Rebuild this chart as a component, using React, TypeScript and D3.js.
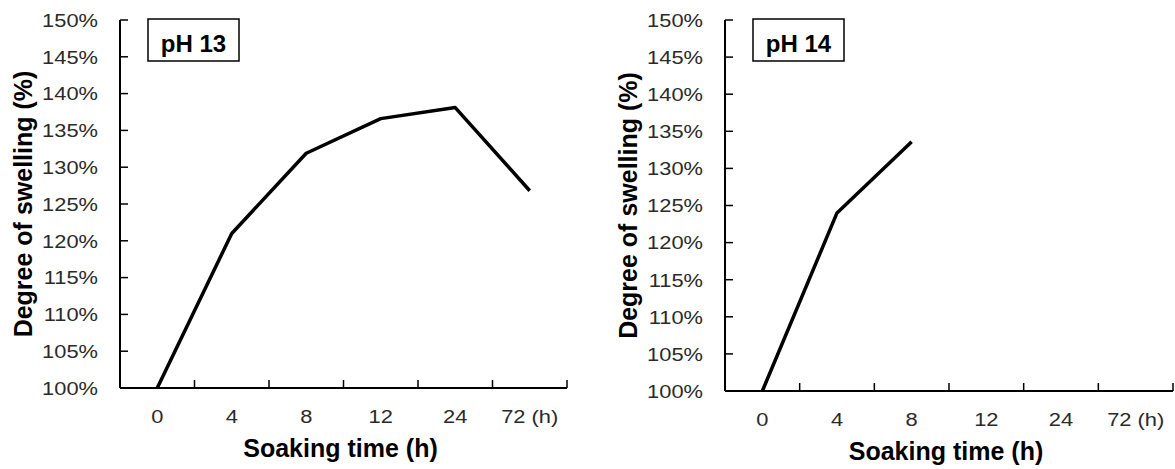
import * as d3 from "d3";
import { useEffect, useRef } from "react";

// soaking time categories (h)
const categories = ["0", "4", "8", "12", "24", "72"];
// degree of swelling (%) per panel
const swellingPH13 = [100, 121, 131.9, 136.6, 138.1, 126.8];
const swellingPH14 = [100, 124, 133.6];
const yTicks = [100, 105, 110, 115, 120, 125, 130, 135, 140, 145, 150];
const panelLabels = ["pH 13", "pH 14"];

const W = 1175;
const H = 469;

const panels = [
    { label: panelLabels[0], values: swellingPH13, left: 120, right: 567, top: 20, bottom: 388 },
    { label: panelLabels[1], values: swellingPH14, left: 725, right: 1173, top: 20, bottom: 391 },
];

const App = () => {
    const chartRef = useRef(null);

    useEffect(() => {
        const svg = d3.select(chartRef.current);
        svg.selectAll("*").remove();

        svg.append("rect").attr("width", W).attr("height", H).style("fill", "#fff");

        panels.forEach((p) => {
            const scaleX = d3.scaleBand()
                .domain(categories)
                .range([p.left, p.right]);
            const scaleY = d3.scaleLinear()
                .domain([100, 150])
                .range([p.bottom, p.top]);
            const bw = scaleX.bandwidth();

            const g = svg.append("g");

            // y axis line + inward ticks
            g.append("line")
                .attr("x1", p.left).attr("x2", p.left)
                .attr("y1", p.top).attr("y2", p.bottom)
                .style("stroke", "#000").style("stroke-width", 2);
            g.selectAll(".ytick")
                .data(yTicks)
                .enter()
                .append("line")
                .attr("x1", p.left).attr("x2", p.left + 8)
                .attr("y1", d => scaleY(d)).attr("y2", d => scaleY(d))
                .style("stroke", "#000").style("stroke-width", 1.5);
            // tick font in the source is a bit wide, so stretch it horizontally
            g.selectAll(".ylab")
                .data(yTicks)
                .enter()
                .append("text")
                .attr("transform", d => `translate(${p.left - 22}, ${scaleY(d)}) scale(1.15, 1)`)
                .attr("dy", "0.36em")
                .attr("text-anchor", "end")
                .style("font-family", "Arial, 'Liberation Sans', sans-serif")
                .style("font-size", "19px")
                .style("fill", "#2a2a2a")
                .text(d => `${d}%`);

            // x axis line + inward ticks at band edges
            g.append("line")
                .attr("x1", p.left).attr("x2", p.right)
                .attr("y1", p.bottom).attr("y2", p.bottom)
                .style("stroke", "#000").style("stroke-width", 2);
            g.selectAll(".xtick")
                .data(categories)
                .enter()
                .append("line")
                .attr("x1", d => scaleX(d) + bw).attr("x2", d => scaleX(d) + bw)
                .attr("y1", p.bottom).attr("y2", p.bottom - 8)
                .style("stroke", "#000").style("stroke-width", 1.5);
            g.selectAll(".xlab")
                .data(categories)
                .enter()
                .append("text")
                .attr("transform", d => `translate(${scaleX(d) + bw / 2}, ${p.bottom + 35}) scale(1.15, 1)`)
                .attr("text-anchor", "middle")
                .style("font-family", "Arial, 'Liberation Sans', sans-serif")
                .style("font-size", "19px")
                .style("fill", "#2a2a2a")
                .text(d => (d === "72" ? "72 (h)" : d));

            // axis titles
            g.append("text")
                .attr("transform", `translate(${p.left - 88}, ${(p.top + p.bottom) / 2}) rotate(-90)`)
                .attr("text-anchor", "middle")
                .style("font-family", "Arial, 'Liberation Sans', sans-serif")
                .style("font-size", "25px")
                .style("font-weight", "bold")
                .style("fill", "#000")
                .text("Degree of swelling (%)");
            g.append("text")
                .attr("x", (p.left + p.right) / 2 - 3)
                .attr("y", p.bottom + 69)
                .attr("text-anchor", "middle")
                .style("font-family", "Arial, 'Liberation Sans', sans-serif")
                .style("font-size", "25px")
                .style("font-weight", "bold")
                .style("fill", "#000")
                .text("Soaking time (h)");

            // pH label box
            g.append("rect")
                .attr("x", p.left + 28).attr("y", p.top - 1)
                .attr("width", 91).attr("height", 42)
                .style("fill", "#fff").style("stroke", "#000").style("stroke-width", 1.5);
            g.append("text")
                .attr("x", p.left + 28 + 45.5)
                .attr("y", p.top + 32)
                .attr("text-anchor", "middle")
                .style("font-family", "Arial, 'Liberation Sans', sans-serif")
                .style("font-size", "24px")
                .style("font-weight", "bold")
                .style("fill", "#000")
                .text(p.label);

            // data line
            const line = d3.line()
                .x((d, i) => scaleX(categories[i]) + bw / 2)
                .y(d => scaleY(d));
            g.append("path")
                .datum(p.values)
                .attr("d", line)
                .style("fill", "none")
                .style("stroke", "#000")
                .style("stroke-width", 3.5)
                .style("stroke-linejoin", "round");
        });
    }, []);

    return (
        <svg ref={chartRef} width={W} height={H}
            style={{ position: "absolute", left: 0, top: 0, display: "block" }}></svg>
    );
};

export default App;
